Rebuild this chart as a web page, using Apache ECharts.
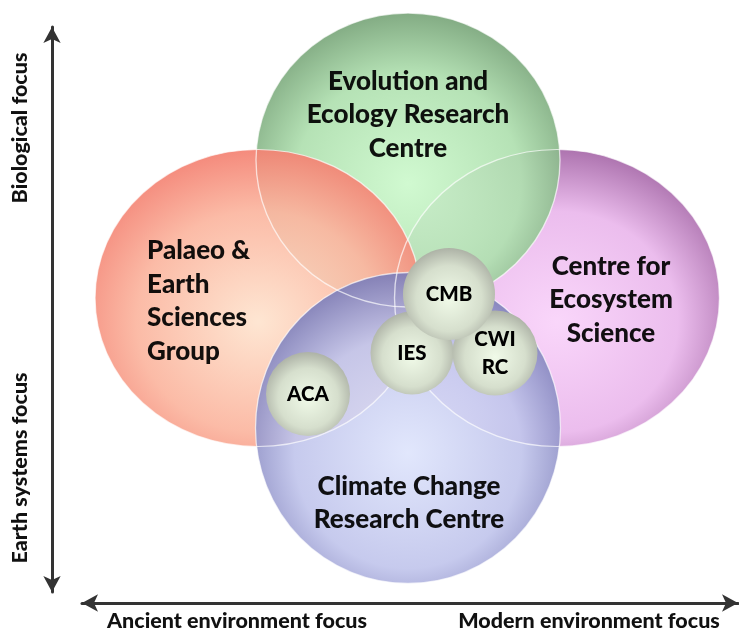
<!DOCTYPE html>
<html><head><meta charset="utf-8">
<script src="https://cdn.jsdelivr.net/npm/echarts@6/dist/echarts.min.js"></script>
<style>html,body{margin:0;padding:0;background:#fff}#c{width:739px;height:632px}</style>
</head><body><div id="c"></div>
<script>
// ---- data ----
const groupNames = ['Centre for\nEcosystem\nScience', 'Evolution and\nEcology Research\nCentre', 'Palaeo &\nEarth\nSciences\nGroup', 'Climate Change\nResearch Centre'];
const groupX = [557, 408, 258, 408];
const groupY = [298, 160, 298, 428];
const groupW = [325, 304, 326, 305];
const groupH = [297, 294, 297, 311];

const unitNames = ['ACA', 'IES', 'CWI\nRC', 'CMB'];
const unitX = [308, 412, 495, 449];
const unitY = [394, 353, 353, 294];
const unitD = [84, 83, 85, 92];

const xTickLabels = ['Ancient environment focus', 'Modern environment focus'];
const xTickPos = [237, 589];
const yTickLabels = ['Biological focus', 'Earth systems focus'];
const yTickPos = [128, 468];

// ---- styles ----
const FONT = 'Lato';
const groupStops = [
  ['#f9d3fa', '#eab8ec', '#9a5a9c'],
  ['#cdf9cd', '#b0e0b0', '#6f9a70'],
  ['#fee4cf', '#fbb6a0', '#f2786a'],
  ['#dfe5fc', '#c2c6ec', '#6f6fae']
];
const groupLabelOffset = [[54, 2], [0, -45], [-111, 3], [1, 75]];
const groupLabelAlign = ['center', 'center', 'left', 'center'];

function radial(stops) {
  return { type: 'radial', x: 0.5, y: 0.58, r: 0.62,
    colorStops: [{ offset: 0, color: stops[0] }, { offset: 0.6, color: stops[1] }, { offset: 1, color: stops[2] }] };
}

const groupData = groupNames.map((n, i) => ({
  name: n,
  value: [groupX[i], groupY[i], groupW[i], groupH[i]],
  itemStyle: { color: radial(groupStops[i]), opacity: 0.93 },
  label: { offset: groupLabelOffset[i], align: groupLabelAlign[i] }
}));
const outlineData = groupNames.map((n, i) => ({ name: n, value: [groupX[i], groupY[i], groupW[i], groupH[i]] }));

const unitData = unitNames.map((n, i) => ({
  name: n,
  value: [unitX[i], unitY[i], unitD[i], unitD[i]]
}));

const chart = echarts.init(document.getElementById('c'), null, { renderer: 'canvas' });
chart.setOption({
  animation: false,
  backgroundColor: '#fff',
  grid: [
    { left: 0, right: 0, top: 0, bottom: 0 },
    { left: 52, top: 27, width: 1, height: 565 },
    { left: 82, right: 1, top: 0, bottom: 29 }
  ],
  xAxis: [
    { gridIndex: 0, type: 'value', min: 0, max: 739, show: false },
    { gridIndex: 1, type: 'value', min: 0, max: 1, show: false },
    { gridIndex: 2, type: 'value', min: 82, max: 738, splitLine: { show: false },
      axisLine: { show: true, lineStyle: { color: '#333', width: 3 }, symbol: ['arrow', 'arrow'], symbolSize: [13, 16] },
      axisTick: { show: false },
      axisLabel: { customValues: xTickPos, margin: 7, color: '#111', fontFamily: FONT, fontWeight: 900, fontSize: 21.5,
        formatter: v => xTickLabels[xTickPos.indexOf(v)] } }
  ],
  yAxis: [
    { gridIndex: 0, type: 'value', min: 0, max: 632, inverse: true, show: false },
    { gridIndex: 1, type: 'value', min: 27, max: 592, inverse: true, splitLine: { show: false },
      axisLine: { show: true, lineStyle: { color: '#333', width: 3 }, symbol: ['arrow', 'arrow'], symbolSize: [13, 16] },
      axisTick: { show: false },
      axisLabel: { customValues: yTickPos, rotate: 90, margin: 21, color: '#111', fontFamily: FONT, fontWeight: 900, fontSize: 21.5,
        formatter: v => yTickLabels[yTickPos.indexOf(v)] } },
    { gridIndex: 2, type: 'value', min: 0, max: 1, show: false }
  ],
  series: [
    { type: 'scatter', xAxisIndex: 0, yAxisIndex: 0, symbol: 'circle',
      symbolSize: (v) => [v[2], v[3]],
      data: groupData,
      label: { show: true, position: 'inside', formatter: p => p.name, color: '#000', fontFamily: FONT, fontWeight: 900, fontSize: 26, lineHeight: 33.5 },
      emphasis: { disabled: true }, z: 2 },
    { type: 'scatter', xAxisIndex: 0, yAxisIndex: 0, symbol: 'circle', silent: true,
      symbolSize: (v) => [v[2], v[3]],
      data: outlineData,
      itemStyle: { color: 'rgba(0,0,0,0)', borderColor: 'rgba(255,255,255,0.85)', borderWidth: 1.3 },
      label: { show: false },
      emphasis: { disabled: true }, z: 2.5 },
    { type: 'scatter', xAxisIndex: 0, yAxisIndex: 0, symbol: 'circle',
      symbolSize: (v) => [v[2], v[3]],
      data: unitData,
      itemStyle: { color: { type: 'radial', x: 0.5, y: 0.55, r: 0.55,
        colorStops: [{ offset: 0, color: '#f0fae8' }, { offset: 0.65, color: '#d6dfcd' }, { offset: 1, color: '#adb2a6' }] }, opacity: 1 },
      label: { show: true, position: 'inside', formatter: p => p.name, color: '#000', fontFamily: FONT, fontWeight: 900, fontSize: 20.5, lineHeight: 28 },
      emphasis: { disabled: true }, z: 3 }
  ]
});
</script></body></html>
